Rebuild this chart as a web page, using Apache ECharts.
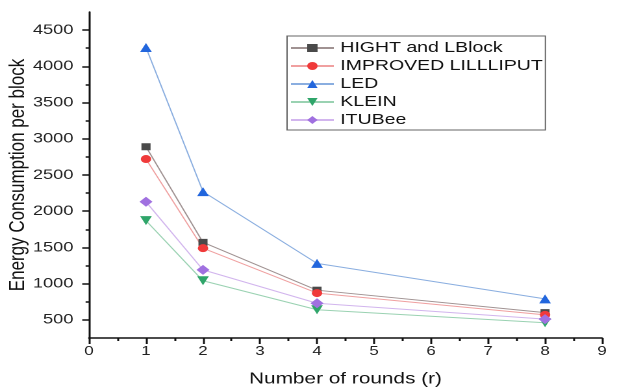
<!DOCTYPE html>
<html>
<head>
<meta charset="utf-8">
<script src="https://cdn.jsdelivr.net/npm/echarts@6/dist/echarts.min.js"></script>
<style>
  html, body { margin: 0; padding: 0; background: #fff; width: 617px; height: 388px; overflow: hidden; }
  #wrap { position: relative; width: 617px; height: 388px; overflow: hidden; }
  /* the source figure is stretched sideways, so draw narrow and widen it */
  #chart { position: absolute; left: 0; top: 0; width: 475px; height: 388px;
           transform: scaleX(1.2989); transform-origin: 0 0; }
</style>
</head>
<body>
<div id="wrap"><div id="chart"></div></div>
<script>
// rounds on the x axis
const rounds = [1, 2, 4, 8];

// energy per block
const hightLBlock = [2890, 1570, 910, 600];
const improvedLilliput = [2720, 1490, 870, 570];
const led = [4260, 2270, 1280, 790];
const klein = [1870, 1040, 640, 460];
const itubee = [2130, 1190, 730, 510];

// y axis ticks
const yMajor = [500, 1000, 1500, 2000, 2500, 3000, 3500, 4000, 4500];
const yMinor = [750, 1250, 1750, 2250, 2750, 3250, 3750, 4250];

const font = 'Liberation Sans, Arial, sans-serif';

function pts(vals) {
  return rounds.map((r, i) => [r, vals[i]]);
}

function mkSeries(name, vals, symbol, size, markColor, lineColor) {
  return {
    name: name,
    type: 'line',
    data: pts(vals),
    symbol: symbol,
    symbolSize: size,
    itemStyle: { color: markColor },
    lineStyle: { color: lineColor, width: 1 },
    emphasis: { disabled: true },
    animation: false
  };
}

const chart = echarts.init(document.getElementById('chart'), null, { devicePixelRatio: 2 });

const ink = { color: '#111', width: 1.5 };

chart.setOption({
  backgroundColor: '#fff',
  grid: { left: 68.5, right: 11.5, top: 12, bottom: 50, outerBoundsMode: 'none', containLabel: false },
  legend: {
    orient: 'vertical',
    left: 221,
    top: 36,
    itemWidth: 33,
    itemHeight: 10,
    itemGap: 2,
    padding: [4, 2, 2, 2],
    borderColor: '#666',
    borderWidth: 1,
    textStyle: { fontFamily: font, fontSize: 15, lineHeight: 16, color: '#111' },
    data: ['HIGHT and LBlock', 'IMPROVED LILLLIPUT', 'LED', 'KLEIN', 'ITUBee']
  },
  xAxis: {
    type: 'value',
    min: 0,
    max: 9,
    interval: 1,
    name: 'Number of rounds (r)',
    nameLocation: 'middle',
    nameGap: 33,
    nameTextStyle: { fontFamily: font, fontSize: 16, color: '#111' },
    axisLine: { lineStyle: ink },
    axisTick: { show: true, length: 6, lineStyle: ink },
    minorTick: { show: true, splitNumber: 2, length: 3, lineStyle: ink },
    axisLabel: { fontFamily: font, fontSize: 13, color: '#222', margin: 7 },
    splitLine: { show: false }
  },
  yAxis: [
    {
      type: 'value',
      min: 250,
      max: 4750,
      name: 'Energy Consumption per block',
      nameLocation: 'middle',
      nameMoveOverlap: false,
      nameGap: 46,
      nameTextStyle: { fontFamily: font, fontSize: 17, color: '#111' },
      axisLine: { lineStyle: ink },
      axisTick: { show: true, length: 5.2, customValues: yMajor, lineStyle: ink },
      axisLabel: {
        fontFamily: font, fontSize: 14, color: '#222', margin: 12,
        customValues: yMajor,
        formatter: v => String(v)
      },
      splitLine: { show: false }
    },
    {
      type: 'value',
      min: 250,
      max: 4750,
      position: 'left',
      axisLine: { show: false },
      axisTick: { show: true, length: 2.6, customValues: yMinor, lineStyle: ink },
      axisLabel: { show: false },
      splitLine: { show: false }
    }
  ],
  series: [
    mkSeries('HIGHT and LBlock', hightLBlock, 'rect', 7, '#4a4a4a', '#a09292'),
    mkSeries('IMPROVED LILLLIPUT', improvedLilliput, 'circle', 8, '#f03a3a', '#f0a0a0'),
    mkSeries('LED', led, 'triangle', 9, '#2266dd', '#8aaee0'),
    mkSeries('KLEIN', klein, 'path://M0,0 L10,0 L5,9 Z', 9, '#2fa56a', '#9ad2b2'),
    mkSeries('ITUBee', itubee, 'diamond', 10, '#a070e0', '#d2b5ee')
  ]
});
</script>
</body>
</html>
